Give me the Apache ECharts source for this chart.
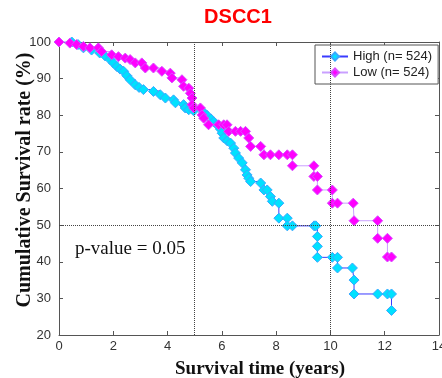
<!DOCTYPE html>
<html>
<head>
<meta charset="utf-8">
<script src="https://cdn.jsdelivr.net/npm/echarts@6/dist/echarts.min.js"></script>
<style>
  html, body { margin: 0; padding: 0; background: #fff; }
  #chart { width: 442px; height: 378px; }
</style>
</head>
<body>
<div id="chart"></div>
<script>
// survival curves (time in years, survival in %)
const highTime = [0, 0.47, 0.7, 0.9, 1.2, 1.5, 1.7, 1.88, 2.0, 2.13, 2.25, 2.38, 2.5, 2.62, 2.81, 2.95, 3.11, 3.48, 3.73, 3.92, 4.22, 4.29, 4.59, 4.65, 4.78, 4.96, 5.33, 5.45, 5.6, 5.7, 5.82, 5.95, 6.01, 6.07, 6.2, 6.32, 6.44, 6.5, 6.62, 6.75, 6.87, 6.93, 6.99, 7.06, 7.43, 7.55, 7.67, 7.79, 7.86, 8.1, 8.1, 8.41, 8.41, 8.6, 9.4, 9.46, 9.52, 9.52, 9.52, 10.07, 10.26, 10.26, 10.81, 10.87, 10.87, 11.74, 12.1, 12.25, 12.25];
const highSurv = [100, 100, 99.3, 98.4, 97.8, 97, 96.2, 95.2, 94.3, 93.3, 92.6, 92, 90.8, 89.7, 88.3, 87.6, 87, 86.5, 85.6, 84.7, 84.2, 83.4, 82.9, 82, 81.5, 81.2, 80.8, 80, 79, 78.2, 77.4, 76.2, 75.1, 73.8, 73, 72.4, 71, 69.7, 68.3, 67, 65.1, 63.7, 62.8, 61.9, 61.5, 59.6, 59.6, 57.8, 56.5, 56, 51.9, 51.9, 49.8, 49.8, 49.8, 49.8, 46.9, 44.2, 41.2, 41.2, 41.2, 38.3, 38.3, 35, 31.2, 31.2, 31.2, 31.2, 26.7];

const lowTime = [0, 0.4, 0.65, 0.9, 1.14, 1.45, 1.57, 1.94, 2.19, 2.44, 2.62, 2.81, 3.05, 3.18, 3.48, 3.79, 4.1, 4.16, 4.53, 4.59, 4.78, 4.84, 4.9, 4.9, 4.96, 5.21, 5.27, 5.33, 5.51, 5.88, 6.07, 6.19, 6.25, 6.5, 6.69, 6.87, 6.99, 7.06, 7.43, 7.55, 7.79, 8.1, 8.41, 8.6, 8.6, 9.39, 9.39, 9.52, 9.52, 10.07, 10.07, 10.26, 10.84, 10.87, 11.74, 11.74, 12.1, 12.1, 12.25];
const lowSurv = [100, 99.7, 99.3, 98.8, 98.4, 98.4, 97.4, 96.5, 96, 95.6, 95.2, 94.3, 94.3, 92.9, 92.9, 92, 91.5, 90.2, 89.7, 87.9, 87.4, 86, 84.7, 82.9, 82, 82, 80.1, 79.2, 77.4, 77.4, 77.4, 77.4, 75.6, 75.6, 75.6, 75.6, 73.8, 71.5, 71.5, 69.2, 69.2, 69.2, 69.2, 69.2, 66.2, 66.2, 63.3, 63.3, 59.6, 59.6, 56, 56, 56, 51.2, 51.2, 46.4, 46.4, 41.3, 41.3];

const seriesNames = ["High (n= 524)", "Low (n= 524)"];
const refTimes = [5, 10];
const refSurv = 50;

function pairs(xs, ys) {
  return xs.map((x, i) => [x, ys[i]]);
}

let chart = echarts.init(document.getElementById("chart"));

const sansFont = '"Liberation Sans", Arial, sans-serif';
const serifFont = '"Liberation Serif", "Times New Roman", serif';

let option = {
  animation: false,
  grid: { left: 59, right: 3, top: 42, bottom: 43, containLabel: false, outerBoundsMode: "none" },
  legend: {
    data: seriesNames,
    orient: "vertical",
    left: 315,
    top: 45,
    backgroundColor: "#fff",
    borderColor: "#555",
    borderWidth: 1,
    borderRadius: 0,
    padding: [5, 6, 5, 6],
    itemWidth: 26,
    itemHeight: 10,
    itemGap: 3,
    textStyle: { fontFamily: sansFont, fontSize: 13, color: "#222" }
  },
  xAxis: [
    {
      type: "value",
      min: 0,
      max: 14,
      interval: 2,
      axisLine: { onZero: false, lineStyle: { color: "#555" } },
      axisTick: { inside: true, length: 4, lineStyle: { color: "#555" } },
      axisLabel: { color: "#333", fontFamily: sansFont, fontSize: 13, margin: 5 },
      splitLine: { show: false }
    },
    {
      type: "value",
      position: "top",
      min: 0,
      max: 14,
      interval: 2,
      axisLine: { show: true, onZero: false, lineStyle: { color: "#555" } },
      axisTick: { show: true, inside: true, length: 4, lineStyle: { color: "#555" } },
      axisLabel: { show: false },
      splitLine: { show: false }
    }
  ],
  yAxis: [
    {
      type: "value",
      min: 20,
      max: 100,
      interval: 10,
      axisLine: { show: true, onZero: false, lineStyle: { color: "#555" } },
      axisTick: { show: true, inside: true, length: 4, lineStyle: { color: "#555" } },
      axisLabel: { color: "#333", fontFamily: sansFont, fontSize: 13, margin: 8 },
      splitLine: { show: false }
    },
    {
      type: "value",
      position: "right",
      min: 20,
      max: 100,
      interval: 10,
      axisLine: { show: true, onZero: false, lineStyle: { color: "#555" } },
      axisTick: { show: true, inside: true, length: 4, lineStyle: { color: "#555" } },
      axisLabel: { show: false },
      splitLine: { show: false }
    }
  ],
  series: [
    {
      name: seriesNames[0],
      type: "line",
      step: "end",
      data: pairs(highTime, highSurv),
      symbol: "diamond",
      symbolSize: 10,
      showAllSymbol: true,
      lineStyle: { color: "#3a3aff", width: 1 },
      itemStyle: { color: "#00e1ff", borderColor: "#39a8ff", borderWidth: 1 },
      markLine: {
        silent: true,
        symbol: ["none", "none"],
        label: { show: false },
        lineStyle: { color: "#444", type: "dotted", width: 1 },
        data: refTimes.map(t => ({ xAxis: t })).concat([{ yAxis: refSurv }])
      },
      z: 3
    },
    {
      name: seriesNames[1],
      type: "line",
      step: "end",
      data: pairs(lowTime, lowSurv),
      symbol: "diamond",
      symbolSize: 10,
      showAllSymbol: true,
      lineStyle: { color: "#c9a0ff", width: 1 },
      itemStyle: { color: "#ff00ff", borderColor: "#d84dff", borderWidth: 1 },
      z: 4
    }
  ],
  graphic: [
    {
      type: "text",
      x: 238,
      y: 17,
      style: {
        text: "DSCC1",
        font: "bold 20px " + sansFont,
        fill: "#ff0000",
        textAlign: "center",
        textVerticalAlign: "middle"
      }
    },
    {
      type: "text",
      x: 25,
      y: 180,
      rotation: Math.PI / 2,
      style: {
        text: "Cumulative Survival rate (%)",
        font: "bold 20px " + serifFont,
        fill: "#111",
        textAlign: "center",
        textVerticalAlign: "middle"
      }
    },
    {
      type: "text",
      x: 260,
      y: 369,
      style: {
        text: "Survival time (years)",
        font: "bold 19px " + serifFont,
        fill: "#111",
        textAlign: "center",
        textVerticalAlign: "middle"
      }
    },
    {
      type: "text",
      x: 75,
      y: 249,
      style: {
        text: "p-value = 0.05",
        font: "19px " + serifFont,
        fill: "#111",
        textAlign: "left",
        textVerticalAlign: "middle"
      }
    }
  ]
};
chart.setOption(option);
</script>
</body>
</html>
